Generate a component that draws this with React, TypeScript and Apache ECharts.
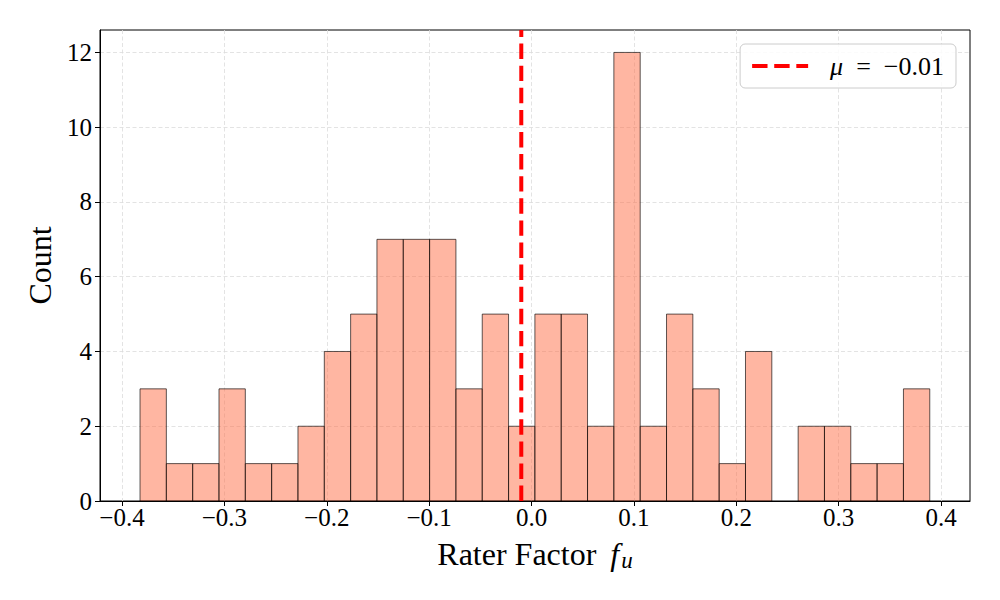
import React, { useEffect, useRef } from "react";
import * as echarts from "echarts";

// Histogram of rater factors: 30 equal-width bins
const binCounts = [3, 1, 1, 3, 1, 1, 2, 4, 5, 7, 7, 7, 3, 5, 2, 5, 5, 2, 12, 2, 5, 3, 1, 4, 0, 2, 2, 1, 1, 3];
const binStart = -0.3824;
const binEnd = 0.389;
const meanValue = -0.01;
const meanLabel = "−0.01";

const xTicks = [-0.4, -0.3, -0.2, -0.1, 0, 0.1, 0.2, 0.3, 0.4];
const yTicks = [0, 2, 4, 6, 8, 10, 12];
const xRange = [-0.4215, 0.4283];
const yRange = [0, 12.6];

const FONT = "'Liberation Serif', 'Times New Roman', serif";
const MEAN_DASH = [15.4, 6.7];

const fmtX = (v: number) => (v < 0 ? "−" + Math.abs(v).toFixed(1) : v.toFixed(1));

export default function App() {
  const ref = useRef<HTMLDivElement>(null);

  useEffect(() => {
    document.body.style.margin = "0";
    const chart = echarts.init(ref.current!, undefined, { renderer: "svg" });
    const w = (binEnd - binStart) / binCounts.length;
    const histData = binCounts.map((c, i) => [binStart + i * w, binStart + (i + 1) * w, c]);

    const gridLine = { show: true, lineStyle: { color: "#dcdcdc", width: 0.8, type: [4, 2.5] } };

    chart.setOption({
      animation: false,
      grid: { left: 100, right: 30, top: 30, bottom: 99, show: true, borderColor: "#000", borderWidth: 1 },
      legend: {
        data: ["mean"],
        right: 44,
        top: 44,
        padding: [9, 12, 9, 10],
        itemWidth: 56,
        itemHeight: 14,
        borderColor: "#cccccc",
        borderWidth: 1,
        borderRadius: 5,
        backgroundColor: "rgba(255,255,255,0.85)",
        itemStyle: { color: "transparent", borderWidth: 0, opacity: 0 },
        lineStyle: { color: "#ff0000", width: 4, type: MEAN_DASH },
        formatter: () => "{i|μ}{t|\u2002=\u2002" + meanLabel + "}",
        textStyle: {
          fontFamily: FONT,
          fontSize: 26,
          color: "#000",
          rich: {
            i: { fontFamily: FONT, fontSize: 26, fontStyle: "italic", padding: [0, 0, 0, 17] },
            t: { fontFamily: FONT, fontSize: 26 },
          },
        },
      },
      xAxis: {
        type: "value",
        min: xRange[0],
        max: xRange[1],
        name: "{a|Rater Factor }{f|f}{u|u}",
        nameLocation: "middle",
        nameGap: 34,
        nameTextStyle: {
          fontFamily: FONT,
          fontSize: 32,
          color: "#000",
          rich: {
            a: { fontFamily: FONT, fontSize: 32, color: "#000" },
            f: { fontFamily: FONT, fontSize: 32, fontStyle: "italic", color: "#000", padding: [0, 2, 0, 6] },
            u: { fontFamily: FONT, fontSize: 23, fontStyle: "italic", color: "#000", padding: [14, 0, 0, 0] },
          },
        },
        axisLine: { show: true, onZero: false, lineStyle: { color: "#000", width: 1 } },
        axisTick: { show: true, customValues: xTicks, length: 5, lineStyle: { color: "#000", width: 1 } },
        axisLabel: { customValues: xTicks, formatter: fmtX, fontFamily: FONT, fontSize: 25, color: "#000", margin: 4 },
        splitLine: gridLine,
      },
      yAxis: {
        type: "value",
        min: yRange[0],
        max: yRange[1],
        name: "Count",
        nameLocation: "middle",
        nameGap: 44,
        nameTextStyle: { fontFamily: FONT, fontSize: 32, color: "#000" },
        axisLine: { show: true, onZero: false, lineStyle: { color: "#000", width: 1 } },
        axisTick: { show: true, customValues: yTicks, length: 5, lineStyle: { color: "#000", width: 1 } },
        axisLabel: { customValues: yTicks, fontFamily: FONT, fontSize: 25, color: "#000", margin: 8 },
        splitLine: gridLine,
      },
      series: [
        {
          type: "custom",
          name: "hist",
          clip: true,
          encode: { x: [0, 1], y: 2 },
          data: histData,
          renderItem: (_params: any, api: any) => {
            const c = api.value(2);
            if (!c) return null;
            const p0 = api.coord([api.value(0), 0]);
            const p1 = api.coord([api.value(1), c]);
            return {
              type: "rect",
              shape: { x: p0[0], y: p1[1], width: p1[0] - p0[0], height: p0[1] - p1[1] },
              style: { fill: "rgba(255,110,70,0.5)", stroke: "rgba(0,0,0,0.8)", lineWidth: 0.8 },
            };
          },
          z: 2,
        },
        {
          type: "line",
          name: "mean",
          data: [
            [meanValue, yRange[0]],
            [meanValue, yRange[1]],
          ],
          symbol: "none",
          showSymbol: false,
          lineStyle: { color: "#ff0000", width: 4, type: MEAN_DASH },
          itemStyle: { color: "#ff0000" },
          z: 5,
        },
      ],
    });
    return () => chart.dispose();
  }, []);

  return <div ref={ref} style={{ position: "absolute", left: 0, top: 0, width: 1000, height: 600 }} />;
}
